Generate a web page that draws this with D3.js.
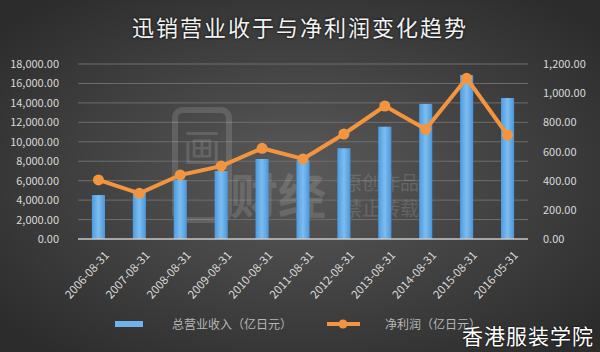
<!DOCTYPE html>
<html>
<head>
<meta charset="utf-8">
<script src="https://cdn.jsdelivr.net/npm/d3@7"></script>
<style>
  body { margin: 0; background: #333; }
  svg text { font-family: "Noto Sans CJK SC", "Noto Sans", sans-serif; }
</style>
</head>
<body>
<div id="chart"></div>
<script>
// data
var dates = ["2006-08-31", "2007-08-31", "2008-08-31", "2009-08-31", "2010-08-31", "2011-08-31",
             "2012-08-31", "2013-08-31", "2014-08-31", "2015-08-31", "2016-05-31"];
var revenue = [4520, 4900, 6100, 7000, 8230, 8100, 9330, 11550, 13900, 16870, 14500];
var profit = [405, 313, 439, 500, 622, 549, 720, 912, 752, 1102, 713];
var leftTicks = [0, 2000, 4000, 6000, 8000, 10000, 12000, 14000, 16000, 18000];
var rightTicks = [0, 200, 400, 600, 800, 1000, 1200];

var W = 600, H = 352;
var margin = {top: 64, right: 72, bottom: 113, left: 78};
var width = W - margin.left - margin.right,
    height = H - margin.top - margin.bottom;

var svg = d3.select("#chart").append("svg")
  .attr("width", W)
  .attr("height", H);

var defs = svg.append("defs");
var bg = defs.append("radialGradient").attr("id", "bg")
  .attr("cx", "50%").attr("cy", "50%").attr("r", "65%");
bg.append("stop").attr("offset", "0%").attr("stop-color", "#5a5a5a");
bg.append("stop").attr("offset", "100%").attr("stop-color", "#2c2c2c");

var barGrad = defs.append("linearGradient").attr("id", "barGrad")
  .attr("x1", 0).attr("x2", 1).attr("y1", 0).attr("y2", 0);
barGrad.append("stop").attr("offset", "0%").attr("stop-color", "#4d9be0");
barGrad.append("stop").attr("offset", "50%").attr("stop-color", "#7dbdf0");
barGrad.append("stop").attr("offset", "100%").attr("stop-color", "#4a96da");

svg.append("rect").attr("width", W).attr("height", H).attr("fill", "url(#bg)");

// title
svg.append("text")
  .attr("x", 300).attr("y", 36)
  .attr("text-anchor", "middle")
  .attr("fill", "#f2f2f2")
  .attr("font-size", "22px")
  .attr("letter-spacing", "2px")
  .style("text-shadow", "0 0 3px #000")
  .text("迅销营业收于与净利润变化趋势");

var g = svg.append("g").attr("transform", "translate(" + margin.left + "," + margin.top + ")");

var x = d3.scaleBand().domain(dates).range([0, width]).paddingInner(0.68).paddingOuter(0.34);
var yL = d3.scaleLinear().domain([0, 18000]).range([height, 0]);
var yR = d3.scaleLinear().domain([0, 1200]).range([height, 0]);

// gridlines
g.append("g").selectAll("line")
  .data(leftTicks.slice(1))
  .enter().append("line")
    .attr("x1", 0).attr("x2", width)
    .attr("y1", function(d) { return yL(d); })
    .attr("y2", function(d) { return yL(d); })
    .attr("stroke", "#6e6e6e")
    .attr("stroke-width", 1);

// watermark (logo + 原创作品 / 禁止转载)
var wm = g.append("g").attr("opacity", 0.13).attr("fill", "#fff");
wm.append("rect").attr("x", 97).attr("y", 46).attr("width", 54).attr("height", 110)
  .attr("rx", 8).attr("fill", "none").attr("stroke", "#fff").attr("stroke-width", 6);
wm.append("text").attr("x", 124).attr("y", 98).attr("text-anchor", "middle")
  .attr("font-size", "38px").text("画");
wm.append("text").attr("x", 152).attr("y", 150).attr("font-size", "48px")
  .attr("font-weight", "bold").text("财经");
wm.append("text").attr("x", 265).attr("y", 126).attr("font-size", "19px").text("原创作品");
wm.append("text").attr("x", 265).attr("y", 152).attr("font-size", "19px").text("禁止转载");

// bars
g.selectAll(".bar")
  .data(revenue)
  .enter().append("rect")
    .attr("class", "bar")
    .attr("x", function(d, i) { return x(dates[i]); })
    .attr("y", function(d) { return yL(d); })
    .attr("width", x.bandwidth())
    .attr("height", function(d) { return height - yL(d); })
    .attr("fill", "url(#barGrad)");

// baseline
g.append("line")
  .attr("x1", 0).attr("x2", width)
  .attr("y1", height).attr("y2", height)
  .attr("stroke", "#c8c8c8").attr("stroke-width", 1.5);

// profit line
var line = d3.line()
  .x(function(d, i) { return x(dates[i]) + x.bandwidth() / 2; })
  .y(function(d) { return yR(d); });

g.append("path")
  .datum(profit)
  .attr("d", line)
  .attr("fill", "none")
  .attr("stroke", "#f3953f")
  .attr("stroke-width", 4)
  .attr("stroke-linejoin", "round");

g.selectAll(".dot")
  .data(profit)
  .enter().append("circle")
    .attr("class", "dot")
    .attr("cx", function(d, i) { return x(dates[i]) + x.bandwidth() / 2; })
    .attr("cy", function(d) { return yR(d); })
    .attr("r", 5.5)
    .attr("fill", "#f3953f");

// axes
var fmt = d3.format(",.2f");
var axL = g.append("g")
  .attr("transform", "translate(-16,0)")
  .call(d3.axisLeft(yL).tickValues(leftTicks).tickFormat(fmt).tickSize(0));
var axR = g.append("g")
  .attr("transform", "translate(" + (width + 12) + ",0)")
  .call(d3.axisRight(yR).tickValues(rightTicks).tickFormat(fmt).tickSize(0));
[axL, axR].forEach(function(a) {
  a.select(".domain").remove();
  a.selectAll("text").attr("fill", "#d9d9d9").attr("font-size", "11px")
    .attr("font-family", "'Open Sans', sans-serif");
});

var axX = g.append("g")
  .attr("transform", "translate(0," + height + ")")
  .call(d3.axisBottom(x).tickSize(0));
axX.select(".domain").remove();
axX.selectAll("text")
  .attr("fill", "#d9d9d9")
  .attr("font-size", "11.5px")
  .attr("font-family", "'Open Sans', sans-serif")
  .attr("text-anchor", "end")
  .attr("dy", "0.35em")
  .attr("transform", "translate(6,12) rotate(-48)");

// legend
var lg = svg.append("g");
lg.append("rect").attr("x", 115).attr("y", 321).attr("width", 28).attr("height", 6)
  .attr("fill", "#6fb2ec");
lg.append("text").attr("x", 172).attr("y", 329).attr("fill", "#b5b5b5")
  .attr("font-size", "12px")
  .text("总营业收入（亿日元）");
lg.append("line").attr("x1", 327).attr("x2", 360).attr("y1", 324).attr("y2", 324)
  .attr("stroke", "#f3953f").attr("stroke-width", 4);
lg.append("circle").attr("cx", 343).attr("cy", 324).attr("r", 4.5).attr("fill", "#f3953f");
lg.append("text").attr("x", 385).attr("y", 329).attr("fill", "#b5b5b5")
  .attr("font-size", "12px")
  .text("净利润（亿日元）");

// corner watermark
svg.append("text")
  .attr("x", 594).attr("y", 344)
  .attr("text-anchor", "end")
  .attr("fill", "#ffffff")
  .attr("font-size", "21px")
  .attr("letter-spacing", "1px")
  .style("text-shadow", "0 0 2px #000")
  .text("香港服装学院");
</script>
</body>
</html>
